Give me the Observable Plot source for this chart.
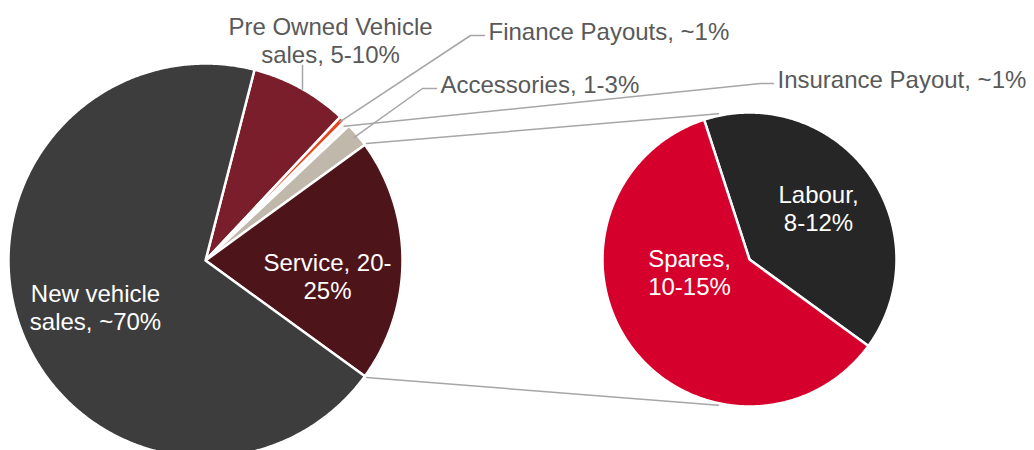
<!DOCTYPE html>
<html><head><meta charset="utf-8">
<script src="https://cdn.jsdelivr.net/npm/d3@7"></script>
<script src="https://cdn.jsdelivr.net/npm/@observablehq/plot@0.6"></script>
<style>body{margin:0;background:#fff}</style>
</head><body><div id="chart"></div>
<script>
// ---- data ----
const mainCategories = ["Pre Owned Vehicle sales", "Finance Payouts", "Insurance Payout", "Accessories", "Service", "New vehicle sales"];
const mainValues = [8, 0.5, 0.5, 2, 20, 69];
const mainLabels = ["Pre Owned Vehicle\nsales, 5-10%", "Finance Payouts, ~1%", "Insurance Payout, ~1%", "Accessories, 1-3%", "Service, 20-\n25%", "New vehicle\nsales, ~70%"];
const mainColors = ["#7b1e2b", "#e2461e", "#f6f6f6", "#bfb8ab", "#4d141a", "#3d3d3d"];
const splitCategory = "Service";
const subCategories = ["Labour", "Spares"];
const subValues = [8, 12];
const subLabels = ["Labour,\n8-12%", "Spares,\n10-15%"];
const subColors = ["#262626", "#d5002b"];

// ---- layout ----
const W = 1034, H = 450;
const mainPie = {cx: 205, cy: 260, r: 197};
const subPie = {cx: 749, cy: 259, r: 147, start: -18};
const font = "'Liberation Sans', Arial, Helvetica, sans-serif";
const gray = "#595959", lineGray = "#a6a6a6";
// label anchors (cap-top positions) and leader elbows
const mainLabelLayout = {
  "Pre Owned Vehicle sales": {x: 330, y: 15, anchor: "middle", inside: false, leader: [[302, 65]], leaderVertical: true},
  "Finance Payouts": {x: 488, y: 20, anchor: "start", inside: false, leader: [[484, 35], [470, 35]]},
  "Insurance Payout": {x: 777, y: 68, anchor: "start", inside: false, leader: [[773, 83], [760, 83]]},
  "Accessories": {x: 440, y: 73, anchor: "start", inside: false, leader: [[436, 88], [422, 88]]},
  "Service": {x: 327, y: 251, anchor: "middle", inside: true},
  "New vehicle sales": {x: 95, y: 282, anchor: "middle", inside: true}
};
const subLabelLayout = {
  "Labour": {x: 818, y: 183},
  "Spares": {x: 689, y: 247}
};

const rad = d => d * Math.PI / 180;
const pt = (p, a, r = p.r) => ({x: p.cx + r * Math.sin(rad(a)), y: p.cy - r * Math.cos(rad(a))});

function slices(values, startAngle) {
  const total = d3.sum(values);
  let a = startAngle;
  return values.map(v => { const a0 = a; a += v / total * 360; return [a0, a]; });
}
function slicePoints(p, a0, a1) {
  const pts = [{x: p.cx, y: p.cy}];
  const n = Math.max(2, Math.ceil((a1 - a0) / 0.5));
  for (let i = 0; i <= n; i++) pts.push(pt(p, a0 + (a1 - a0) * i / n));
  return pts;
}

// main pie: split slice centred on the right (90°)
const mainTotal = d3.sum(mainValues);
const splitIndex = mainCategories.indexOf(splitCategory);
const before = d3.sum(mainValues.slice(0, splitIndex));
const mainStart = 90 - (before + mainValues[splitIndex] / 2) / mainTotal * 360;
const mainAngles = slices(mainValues, mainStart);
const subAngles = slices(subValues, subPie.start);

const marks = [];
mainCategories.forEach((c, i) => {
  marks.push(Plot.line(slicePoints(mainPie, ...mainAngles[i]), {x: "x", y: "y", fill: mainColors[i], stroke: "white", strokeWidth: 2.5, curve: "linear-closed"}));
});
subCategories.forEach((c, i) => {
  marks.push(Plot.line(slicePoints(subPie, ...subAngles[i]), {x: "x", y: "y", fill: subColors[i], stroke: "white", strokeWidth: 2.5, curve: "linear-closed"}));
});

// connector lines between the split slice and the secondary pie
const [s0, s1] = mainAngles[splitIndex];
const connectors = [
  [pt(mainPie, s0, mainPie.r + 2), pt(subPie, -12, subPie.r + 2)],
  [pt(mainPie, s1, mainPie.r + 2), pt(subPie, 192, subPie.r + 2)]
];
connectors.forEach(seg => marks.push(Plot.line(seg, {x: "x", y: "y", stroke: lineGray, strokeWidth: 1.5})));

// leader lines for outside labels
mainCategories.forEach((c, i) => {
  const L = mainLabelLayout[c];
  if (L.inside) return;
  const mid = (mainAngles[i][0] + mainAngles[i][1]) / 2;
  const end = pt(mainPie, mid, mainPie.r - 4);
  let pts;
  if (L.leaderVertical) pts = [{x: L.leader[0][0], y: L.leader[0][1]}, {x: L.leader[0][0], y: end.y - 2}];
  else pts = [...L.leader.map(([x, y]) => ({x, y})), end];
  marks.push(Plot.line(pts, {x: "x", y: "y", stroke: lineGray, strokeWidth: 1.5}));
});

// labels
const labelRows = mainCategories.map((c, i) => ({text: mainLabels[i], ...mainLabelLayout[c], fill: mainLabelLayout[c].inside ? "white" : gray}))
  .concat(subCategories.map((c, i) => ({text: subLabels[i], ...subLabelLayout[c], anchor: "middle", fill: "white"})));
["middle", "start"].forEach(anchor => {
  marks.push(Plot.text(labelRows.filter(d => d.anchor === anchor), {
    x: "x", y: "y", text: "text", fill: "fill", textAnchor: anchor, lineAnchor: "top",
    fontSize: 24, lineHeight: 1.15, fontFamily: font
  }));
});

const chart = Plot.plot({
  width: W, height: H, margin: 0,
  x: {domain: [0, W], range: [0, W], axis: null},
  y: {domain: [0, H], range: [0, H], axis: null},
  style: {fontFamily: font, background: "white"},
  marks
});
document.getElementById("chart").append(chart);
</script>
</body></html>
